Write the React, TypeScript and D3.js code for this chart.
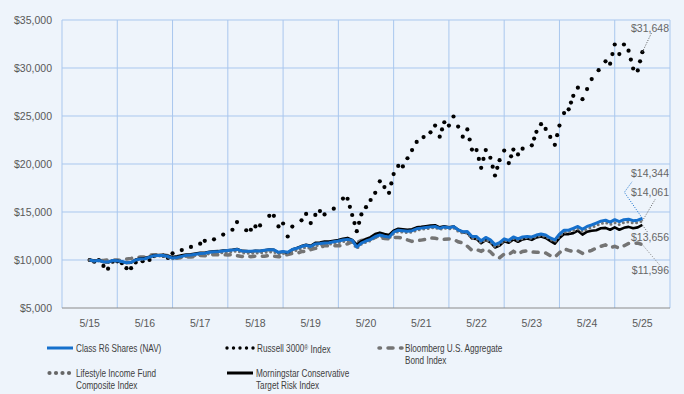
import React, { useRef, useEffect } from "react";
import * as d3 from "d3";

const yearLabels = ["5/15", "5/16", "5/17", "5/18", "5/19", "5/20", "5/21", "5/22", "5/23", "5/24", "5/25"];
const yTicks = [5000, 10000, 15000, 20000, 25000, 30000, 35000];

// monthly growth of $10,000, 5/15 .. 5/25 (121 points)
const classR6 = [
  10000, 9900, 9950, 9820, 9780, 9950, 9920, 9850,
  9720, 9760, 10000, 10100, 10130, 10300, 10450, 10460, 10470, 10360, 10200, 10270,
  10380, 10500, 10520, 10600, 10680, 10700, 10800, 10860, 10880, 10940, 10980, 11030,
  11100, 10950, 10920, 10900, 10950, 10930, 11020, 11080, 11060, 10800, 10880, 10800,
  11100, 11220, 11400, 11530, 11400, 11680, 11720, 11780, 11800, 11900, 11980, 12080,
  12150, 12050, 11350, 11750, 11980, 12150, 12450, 12600, 12480, 12380, 12900, 13100,
  13050, 13000, 13050, 13250, 13320, 13380, 13450, 13500, 13300, 13450, 13350, 13480,
  13150, 12950, 12980, 12450, 12450, 12000, 12350, 12100, 11600, 11800, 12200, 12050,
  12400, 12200, 12400, 12450, 12400, 12600, 12700, 12600, 12300, 12100, 12700, 13100,
  13100, 13300, 13500, 13200, 13500, 13650, 13850, 14050, 14150, 13950, 14200, 14000,
  14200, 14250, 14100, 14150, 14344,
];

const russell3000 = [
  10000, 9830, 9980, 9380, 9100, 9820, 9860, 9660,
  9150, 9150, 9750, 9820, 9990, 10010, 10410, 10440, 10440, 10210, 10700, 10900,
  11150, 11350, 11450, 11550, 11700, 12000, 12050, 12150, 12400, 12700, 12950, 13150,
  13950, 13400, 13100, 13150, 13500, 13600, 14050, 14600, 14600, 13500, 13800, 12450,
  13480, 13900, 14130, 14800, 13850, 14700, 15100, 14750, 15000, 15350, 15950, 16400,
  16380, 15000, 13000, 14750, 15550, 16100, 17000, 18200, 17500, 17000, 18950, 19800,
  19750, 20450, 21300, 22300, 22500, 22900, 23300, 24000, 22850, 24350, 24000, 24950,
  23750, 22850, 23600, 21500, 21450, 19600, 21450, 20650, 18800, 20400, 21400, 20100,
  21500, 21000, 21600, 21800, 21950, 23350, 24150, 23650, 22650, 22000, 24000, 25300,
  25700, 27100, 27950, 26750, 28000, 28850, 29400, 30050, 30700, 30450, 32450, 31450,
  32450, 31800, 29950, 29750, 31648,
];

const bloombergAgg = [
  10000, 9890, 9960, 9950, 10020, 10020, 9990, 9960,
  10100, 10170, 10260, 10300, 10300, 10490, 10550, 10540, 10530, 10450, 10200, 10220,
  10240, 10310, 10300, 10380, 10460, 10450, 10490, 10580, 10530, 10540, 10530, 10580,
  10460, 10360, 10420, 10340, 10410, 10400, 10400, 10470, 10400, 10330, 10390, 10580,
  10690, 10680, 10880, 10880, 11070, 11210, 11230, 11520, 11460, 11490, 11480, 11480,
  11690, 11900, 11830, 12040, 12100, 12180, 12360, 12260, 12250, 12190, 12340, 12350,
  12270, 12090, 11940, 12030, 12070, 12150, 12290, 12270, 12160, 12150, 12190, 12160,
  11900, 11770, 11440, 11010, 11080, 10910, 11160, 10850, 10380, 10240, 10620, 10570,
  10900, 10620, 10890, 10950, 10830, 10800, 10790, 10730, 10460, 10290, 10760, 11170,
  11010, 10860, 10960, 10690, 10870, 11000, 11260, 11420, 11570, 11280, 11420, 11230,
  11470, 11720, 11730, 11770, 11596,
];

const lifestyleComposite = [
  10000, 9900, 9950, 9800, 9760, 9930, 9890, 9820,
  9700, 9740, 9980, 10080, 10100, 10260, 10400, 10400, 10420, 10300, 10120, 10180,
  10280, 10380, 10400, 10480, 10550, 10560, 10650, 10700, 10720, 10760, 10800, 10850,
  10950, 10750, 10720, 10700, 10740, 10730, 10800, 10850, 10830, 10600, 10680, 10580,
  10900, 11020, 11200, 11320, 11220, 11480, 11530, 11620, 11630, 11720, 11800, 11920,
  12000, 11850, 11200, 11650, 11850, 12020, 12350, 12480, 12360, 12260, 12750, 12950,
  12900, 12850, 12900, 13100, 13180, 13250, 13330, 13380, 13180, 13320, 13220, 13350,
  13000, 12800, 12800, 12250, 12250, 11800, 12150, 11900, 11400, 11600, 12050, 11900,
  12250, 12050, 12250, 12320, 12250, 12450, 12550, 12450, 12150, 11920, 12500, 12900,
  12900, 13050, 13250, 12950, 13250, 13380, 13600, 13800, 13900, 13700, 13900, 13700,
  13900, 13980, 13850, 13900, 14061,
];

const morningstarConservative = [
  10000, 9920, 9980, 9800, 9740, 9950, 9900, 9830,
  9700, 9720, 10050, 10150, 10200, 10350, 10500, 10520, 10530, 10420, 10300, 10380,
  10480, 10580, 10600, 10680, 10750, 10760, 10850, 10900, 10920, 10980, 11000, 11060,
  11150, 10950, 10920, 10880, 10950, 10930, 11020, 11080, 11050, 10780, 10850, 10720,
  11100, 11250, 11450, 11580, 11480, 11780, 11820, 11920, 11920, 12000, 12080, 12220,
  12300, 12100, 11600, 11950, 12200, 12380, 12700, 12850, 12700, 12600, 13050, 13250,
  13200, 13150, 13200, 13400, 13450, 13520, 13600, 13620, 13400, 13520, 13400, 13500,
  13150, 12900, 12850, 12250, 12200, 11750, 12100, 11850, 11300, 11500, 11950, 11800,
  12150, 11900, 12150, 12250, 12100, 12350, 12450, 12300, 12000, 11700, 12300, 12700,
  12700, 12800, 13050, 12650, 12950, 13050, 13100, 13300, 13350, 13150, 13400, 13150,
  13350, 13450, 13300, 13400, 13656,
];

const W = 684;
const H = 394;
const BG = "#eef4fb";
const GRID = "#a9c7ee";
const BLUE = "#1670cc";
const GREY = "#747474";
const FONT = "'Liberation Sans', Arial, sans-serif";

type Pt = [number, number];

// Russell line is drawn as dots: drop near-straight vertices, then space dots along each segment
function dotPoints(pts: Pt[], spacing: number): Pt[] {
  const kept: Pt[] = [pts[0]];
  for (let i = 1; i < pts.length - 1; i++) {
    const a = kept[kept.length - 1];
    const b = pts[i];
    const c = pts[i + 1];
    const dx = c[0] - a[0];
    const dy = c[1] - a[1];
    const dist = Math.abs(dx * (a[1] - b[1]) - dy * (a[0] - b[0])) / Math.hypot(dx, dy);
    if (dist > 0.9) kept.push(b);
  }
  kept.push(pts[pts.length - 1]);
  const out: Pt[] = [];
  for (let i = 0; i < kept.length - 1; i++) {
    const [x0, y0] = kept[i];
    const [x1, y1] = kept[i + 1];
    const n = Math.max(1, Math.round(Math.hypot(x1 - x0, y1 - y0) / spacing));
    for (let k = 0; k < n; k++) out.push([x0 + ((x1 - x0) * k) / n, y0 + ((y1 - y0) * k) / n]);
  }
  out.push(kept[kept.length - 1]);
  return out;
}

export default function App() {
  const ref = useRef<SVGSVGElement | null>(null);

  useEffect(() => {
    const svg = d3.select(ref.current);
    svg.selectAll("*").remove();

    const left = 62;
    const right = 670;
    const top = 20;
    const bottom = 308;

    const n = classR6.length;
    const x = d3.scaleLinear().domain([-6, (n - 1) + 6]).range([left, right]);
    const y = d3.scaleLinear().domain([5000, 35000]).range([bottom, top]);
    const fmt = d3.format("$,");

    svg.append("rect").attr("width", W).attr("height", H).attr("fill", BG);

    // grid
    const g = svg.append("g");
    g.selectAll(".hg")
      .data(yTicks.slice(1))
      .enter()
      .append("line")
      .attr("x1", left)
      .attr("x2", right)
      .attr("y1", (d) => y(d))
      .attr("y2", (d) => y(d))
      .attr("stroke", GRID)
      .attr("stroke-width", 1);
    g.selectAll(".vg")
      .data(d3.range(yearLabels.length + 1))
      .enter()
      .append("line")
      .attr("x1", (d) => x(d * 12 - 6))
      .attr("x2", (d) => x(d * 12 - 6))
      .attr("y1", top)
      .attr("y2", bottom)
      .attr("stroke", GRID)
      .attr("stroke-width", 1);
    g.append("line")
      .attr("x1", left)
      .attr("x2", right)
      .attr("y1", bottom)
      .attr("y2", bottom)
      .attr("stroke", "#8a8a8a")
      .attr("stroke-width", 1);

    // axis labels
    g.selectAll(".yl")
      .data(yTicks)
      .enter()
      .append("text")
      .attr("x", 52)
      .attr("y", (d) => y(d))
      .attr("dy", "0.35em")
      .attr("text-anchor", "end")
      .attr("fill", "#595959")
      .style("font", `10.5px ${FONT}`)
      .text((d) => fmt(d));
    g.selectAll(".xl")
      .data(yearLabels)
      .enter()
      .append("text")
      .attr("x", (d, i) => x(i * 12))
      .attr("y", 323)
      .attr("dy", "0.35em")
      .attr("text-anchor", "middle")
      .attr("fill", "#595959")
      .style("font", `10.5px ${FONT}`)
      .text((d) => d);

    const line = d3
      .line<number>()
      .x((d, i) => x(i))
      .y((d) => y(d));

    // Bloomberg - grey dashes
    svg.append("path")
      .datum(bloombergAgg)
      .attr("fill", "none")
      .attr("stroke", GREY)
      .attr("stroke-width", 3.5)
      .attr("stroke-linecap", "round")
      .attr("stroke-dasharray", "5 7.5")
      .attr("d", line);

    // Russell - black dots
    const rPts = dotPoints(russell3000.map((v, i) => [x(i), y(v)] as Pt), 9.2);
    svg.append("g")
      .selectAll("circle")
      .data(rPts)
      .enter()
      .append("circle")
      .attr("cx", (d) => d[0])
      .attr("cy", (d) => d[1])
      .attr("r", 2.1)
      .attr("fill", "#000");

    // Morningstar - black
    svg.append("path")
      .datum(morningstarConservative)
      .attr("fill", "none")
      .attr("stroke", "#000")
      .attr("stroke-width", 2.6)
      .attr("stroke-linejoin", "round")
      .attr("d", line);

    // Lifestyle composite - grey dots
    svg.append("path")
      .datum(lifestyleComposite)
      .attr("fill", "none")
      .attr("stroke", GREY)
      .attr("stroke-width", 3)
      .attr("stroke-linecap", "round")
      .attr("stroke-dasharray", "0 4.5")
      .attr("d", line);

    // Class R6 - blue
    svg.append("path")
      .datum(classR6)
      .attr("fill", "none")
      .attr("stroke", BLUE)
      .attr("stroke-width", 3)
      .attr("stroke-linejoin", "round")
      .attr("d", line);

    // end labels with leaders
    const last = n - 1;
    const ends = [
      { v: russell3000[last], color: "#555", ty: 28, bend: [[9, -19]] },
      { v: classR6[last], color: BLUE, ty: 173, bend: [[-18, -26], [-10, -37]] },
      { v: lifestyleComposite[last], color: "#666", ty: 192.5, bend: [[13, -22]] },
      { v: morningstarConservative[last], color: "#666", ty: 237.5, bend: [[5, 7]] },
      { v: bloombergAgg[last], color: "#888", ty: 270.5, bend: [[17, 20]] },
    ];
    ends.forEach((e) => {
      const x0 = x(last);
      const y0 = y(e.v);
      const pts: Pt[] = [[x0, y0], ...e.bend.map((b) => [x0 + b[0], y0 + b[1]] as Pt)];
      svg.append("path")
        .attr("d", d3.line()(pts))
        .attr("fill", "none")
        .attr("stroke", e.color)
        .attr("stroke-width", 1)
        .attr("stroke-dasharray", "1 1.5");
      svg.append("text")
        .attr("x", 669)
        .attr("y", e.ty)
        .attr("dy", "0.35em")
        .attr("text-anchor", "end")
        .attr("fill", "#666")
        .style("font", `10.5px ${FONT}`)
        .text(fmt(e.v));
    });

    // legend (narrow lettering: squeeze horizontally)
    const lg = svg.append("g").style("font", `10px ${FONT}`).attr("fill", "#404040");
    const txt = (tx: number, ty: number, s: string) =>
      lg.append("text")
        .attr("transform", `translate(${tx},${ty}) scale(0.82,1)`)
        .attr("dy", "0.35em")
        .text(s);

    lg.append("line").attr("x1", 47).attr("x2", 73).attr("y1", 348).attr("y2", 348)
      .attr("stroke", BLUE).attr("stroke-width", 3);
    txt(76, 348, "Class R6 Shares (NAV)");

    lg.selectAll(".rd").data(d3.range(5)).enter().append("circle")
      .attr("cx", (d) => 227 + d * 6.5).attr("cy", 348).attr("r", 1.7).attr("fill", "#000");
    const rt = txt(257, 348, "Russell 3000");
    rt.append("tspan").attr("dy", "-0.3em").style("font-size", "6.5px").text("®");
    rt.append("tspan").attr("dy", "0.3em").text(" Index");

    lg.append("line").attr("x1", 379).attr("x2", 402).attr("y1", 348).attr("y2", 348)
      .attr("stroke", GREY).attr("stroke-width", 3.5).attr("stroke-linecap", "round")
      .attr("stroke-dasharray", "5 7.5").attr("stroke-dashoffset", 3.5);
    txt(405, 348, "Bloomberg U.S. Aggregate");
    txt(405, 360, "Bond Index");

    lg.selectAll(".ld").data(d3.range(4)).enter().append("circle")
      .attr("cx", (d) => 49.5 + d * 6.5).attr("cy", 373).attr("r", 2.1).attr("fill", "#666");
    txt(76, 373, "Lifestyle Income Fund");
    txt(76, 385, "Composite Index");

    lg.append("line").attr("x1", 227).attr("x2", 253).attr("y1", 373).attr("y2", 373)
      .attr("stroke", "#000").attr("stroke-width", 3);
    txt(256, 373, "Morningstar Conservative");
    txt(256, 385, "Target Risk Index");
  }, []);

  return (
    <svg
      ref={ref}
      width={W}
      height={H}
      style={{ position: "absolute", left: 0, top: 0, display: "block" }}
    />
  );
}
